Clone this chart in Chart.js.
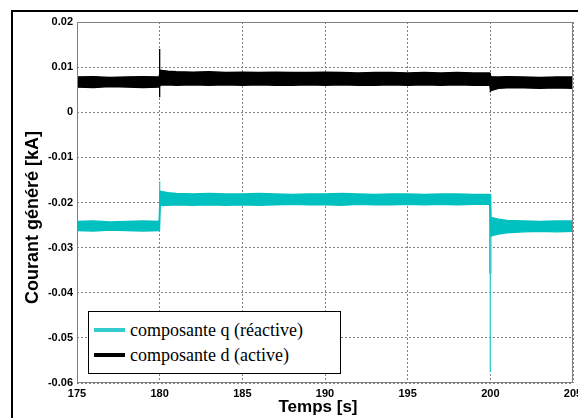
<!DOCTYPE html>
<html>
<head>
<meta charset="utf-8">
<script src="https://cdn.jsdelivr.net/npm/chart.js@4/dist/chart.umd.min.js"></script>
<style>
  body { margin: 0; background: #fff; }
  #wrap { position: relative; width: 578px; height: 418px; overflow: hidden; }
  #frame { position: absolute; left: 11px; top: 10px; width: 620px; height: 460px; border: 2px solid #000; pointer-events: none; }
  #legend { position: absolute; left: 88px; top: 311px; width: 251px; height: 61px; border: 1.5px solid #000; background: #fff;
            font-family: "Liberation Serif", "Times New Roman", serif; font-size: 18px; color: #000; }
  .row { position: absolute; left: 0; height: 22px; line-height: 22px; white-space: nowrap; }
  .row span.sw { position: absolute; left: 5px; top: 9px; width: 31px; height: 4px; }
  .row span.tx { position: absolute; left: 41px; top: 0; }
</style>
</head>
<body>
<div id="wrap">
  <canvas id="chart" width="578" height="418"></canvas>
  <div id="frame"></div>
  <div id="legend">
    <div class="row" style="top:7px"><span class="sw" style="background:#33cccc"></span><span class="tx">composante q (réactive)</span></div>
    <div class="row" style="top:32px"><span class="sw" style="background:#000"></span><span class="tx">composante d (active)</span></div>
  </div>
</div>
<script>
// Data (envelopes of the noisy signals)
const times = [175, 176, 177, 178, 179, 179.97, 180.03, 180.5, 181, 182, 183, 184, 185, 186, 187, 188, 189, 190,
  191, 192, 193, 194, 195, 196, 197, 198, 199, 199.97, 200.03, 200.5, 201, 202, 203, 204, 205];

const dUpper = [0.0078, 0.0079, 0.0077, 0.0078, 0.0079, 0.0078, 0.0093, 0.0091, 0.0090, 0.0089, 0.0090, 0.0088, 0.0089,
  0.0088, 0.0089, 0.0088, 0.0088, 0.0089, 0.0088, 0.0087, 0.0088, 0.0088, 0.0087, 0.0088, 0.0087, 0.0088, 0.0087, 0.0087,
  0.0079, 0.0078, 0.0079, 0.0078, 0.0077, 0.0078, 0.0078];
const dLower = [0.0056, 0.0055, 0.0057, 0.0056, 0.0055, 0.0056, 0.0060, 0.0061, 0.0060, 0.0061, 0.0060, 0.0061, 0.0060,
  0.0061, 0.0060, 0.0060, 0.0061, 0.0060, 0.0061, 0.0060, 0.0060, 0.0061, 0.0060, 0.0061, 0.0060, 0.0061, 0.0060, 0.0060,
  0.0048, 0.0053, 0.0054, 0.0054, 0.0053, 0.0054, 0.0053];

const qUpper = [-0.0242, -0.0241, -0.0243, -0.0242, -0.0241, -0.0242, -0.0175, -0.0178, -0.0180, -0.0181, -0.0180, -0.0181,
  -0.0181, -0.0180, -0.0181, -0.0182, -0.0181, -0.0181, -0.0180, -0.0181, -0.0182, -0.0181, -0.0181, -0.0182, -0.0181,
  -0.0181, -0.0182, -0.0182, -0.0233, -0.0237, -0.0240, -0.0241, -0.0242, -0.0241, -0.0241];
const qLower = [-0.0262, -0.0263, -0.0261, -0.0262, -0.0263, -0.0262, -0.0207, -0.0206, -0.0205, -0.0206, -0.0205, -0.0206,
  -0.0205, -0.0206, -0.0205, -0.0204, -0.0205, -0.0205, -0.0206, -0.0204, -0.0205, -0.0205, -0.0204, -0.0205, -0.0204,
  -0.0205, -0.0204, -0.0204, -0.0274, -0.0270, -0.0267, -0.0265, -0.0264, -0.0265, -0.0264];

// transient spikes at the switching instants [time, from, to]
const dSpikes = [[180, 0.0033, 0.0140], [200, 0.0087, 0.0044]];
const qSpikes = [[180, -0.0262, -0.0153], [200, -0.0182, -0.0576]];
const qSpikeThick = [200, -0.0182, -0.0358];

const xTicks = [175, 180, 185, 190, 195, 200, 205];
const yTicks = [-0.06, -0.05, -0.04, -0.03, -0.02, -0.01, 0, 0.01, 0.02];
const yTickLabels = ['-0.06', '-0.05', '-0.04', '-0.03', '-0.02', '-0.01', '0', '0.01', '0.02'];

const BLACK = '#000000';
const CYAN = '#00c0c0';

function toPoints(values) {
  return times.map((t, i) => ({ x: t, y: values[i] }));
}

function band(upper, lower, color) {
  return [
    { data: toPoints(upper), borderColor: color, backgroundColor: color, borderWidth: 1.4, pointRadius: 0, fill: false },
    { data: toPoints(lower), borderColor: color, backgroundColor: color, borderWidth: 1.4, pointRadius: 0, fill: '-1' }
  ];
}

function spike(s, color, width) {
  return { data: [{ x: s[0], y: s[1] }, { x: s[0], y: s[2] }], borderColor: color, borderWidth: width, pointRadius: 0, fill: false };
}

const datasets = [
  ...band(dUpper, dLower, BLACK),
  ...band(qUpper, qLower, CYAN),
  ...dSpikes.map(s => spike(s, BLACK, 1.3)),
  ...qSpikes.map(s => spike(s, '#33cccc', 1.3)),
  spike(qSpikeThick, CYAN, 2.2)
];

const titleFont = 'bold 18px Arial, "Liberation Sans", sans-serif';

// gray box around the plot area + axis titles
const boxPlugin = {
  id: 'box',
  afterDraw(chart) {
    const a = chart.chartArea;
    const ctx = chart.ctx;
    ctx.save();
    ctx.strokeStyle = '#808080';
    ctx.lineWidth = 1;
    ctx.strokeRect(a.left + 0.5, a.top + 0.5, a.right - a.left - 1, a.bottom - a.top - 1);

    ctx.fillStyle = '#000';
    ctx.textAlign = 'center';
    ctx.textBaseline = 'middle';
    ctx.font = 'bold 17px Arial, "Liberation Sans", sans-serif';
    ctx.fillText('Temps [s]', (a.left + a.right) / 2 - 7, a.bottom + 24);

    ctx.translate(a.left - 44, (a.top + a.bottom) / 2 + 15);
    ctx.rotate(-Math.PI / 2);
    ctx.font = titleFont;
    ctx.fillText('Courant généré [kA]', 0, 0);
    ctx.restore();
  }
};

const tickFont = { family: 'Arial, "Liberation Sans", sans-serif', size: 11, weight: 'bold' };

new Chart(document.getElementById('chart'), {
  type: 'line',
  data: { datasets },
  plugins: [boxPlugin],
  options: {
    responsive: false,
    animation: false,
    parsing: false,
    normalized: true,
    layout: { padding: { left: 0, top: 22, right: 5, bottom: 0 } },
    plugins: { legend: { display: false }, tooltip: { enabled: false } },
    scales: {
      x: {
        type: 'linear',
        min: 175,
        max: 205,
        afterFit: s => { s.height = 35; s.paddingLeft = 0; s.paddingRight = 0; },
        afterBuildTicks: s => { s.ticks = xTicks.map(v => ({ value: v })); },
        ticks: { color: '#000', font: tickFont, padding: 4, maxRotation: 0, autoSkip: false, callback: v => String(v) },
        grid: { color: '#808080', drawTicks: false, lineWidth: 1 },
        border: { display: false, dash: [2, 2] }
      },
      y: {
        type: 'linear',
        min: -0.06,
        max: 0.02,
        afterFit: s => { s.width = 77; s.paddingTop = 0; s.paddingBottom = 0; },
        afterBuildTicks: s => { s.ticks = yTicks.map(v => ({ value: v })); },
        ticks: {
          color: '#000', font: tickFont, padding: 4, autoSkip: false,
          callback: (v, i) => yTickLabels[i]
        },
        grid: { color: '#808080', drawTicks: false, lineWidth: 1 },
        border: { display: false, dash: [2, 2] }
      }
    }
  }
});
</script>
</body>
</html>
